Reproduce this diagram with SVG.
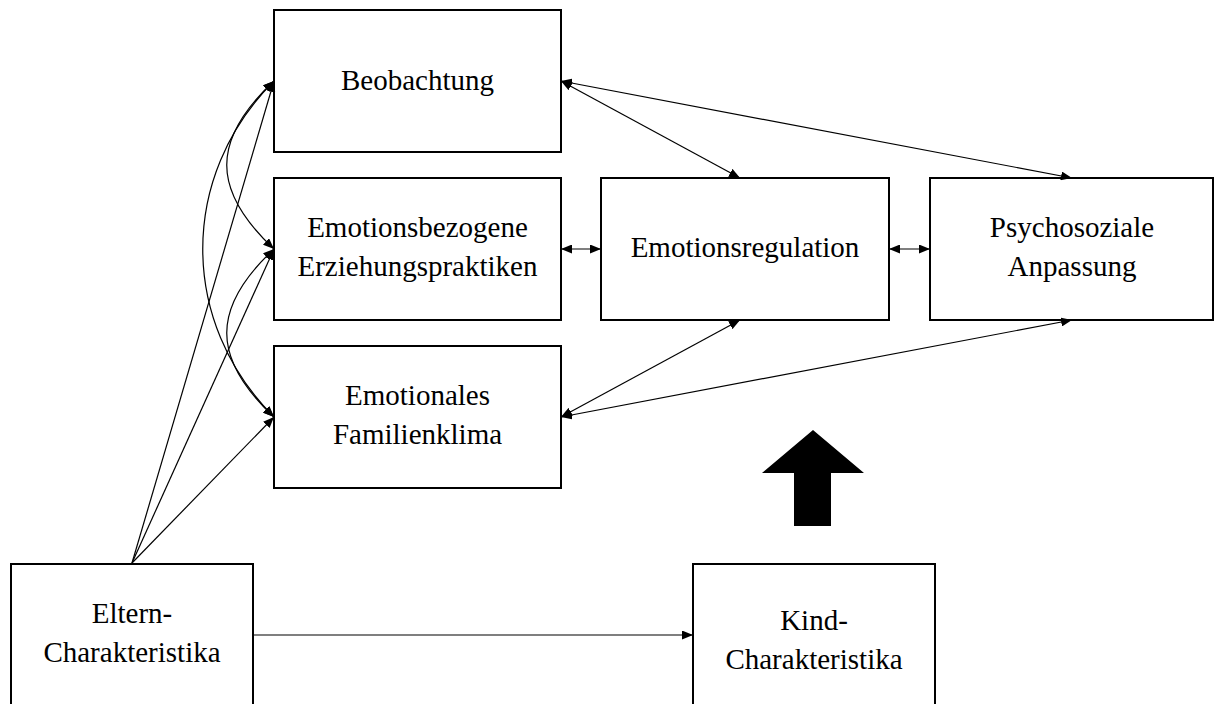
<svg xmlns="http://www.w3.org/2000/svg" width="1215" height="704" viewBox="0 0 1215 704">
<style>
.box{fill:#fff;stroke:#000;stroke-width:2}
.lbl{font-family:"Liberation Serif","Times New Roman",serif;font-size:29px;fill:#000;text-anchor:middle}
.c{fill:none;stroke:#000;stroke-width:1.2}
.d{marker-start:url(#ah);marker-end:url(#ah)}
.s{marker-end:url(#ah)}
</style>
<defs>
<marker id="ah" markerUnits="userSpaceOnUse" markerWidth="11" markerHeight="9" refX="11" refY="4.5" orient="auto-start-reverse" viewBox="0 0 11 9">
<path d="M0,0 L11,4.5 L0,9 z" fill="#000"/>
</marker>
</defs>
<rect width="1215" height="704" fill="#fff"/>
<g id="beobachtung"><rect class="box" x="274" y="10" width="287" height="142"/><text class="lbl" x="417.5" y="90">Beobachtung</text></g>
<g id="erziehungspraktiken"><rect class="box" x="274" y="178" width="287" height="142"/><text class="lbl" x="417.5" y="237">Emotionsbezogene</text><text class="lbl" x="417.5" y="276">Erziehungspraktiken</text></g>
<g id="familienklima"><rect class="box" x="274" y="346" width="287" height="142"/><text class="lbl" x="417.5" y="405">Emotionales</text><text class="lbl" x="417.5" y="444">Familienklima</text></g>
<g id="emotionsregulation"><rect class="box" x="601" y="178" width="288" height="142"/><text class="lbl" x="745" y="257">Emotionsregulation</text></g>
<g id="anpassung"><rect class="box" x="930" y="178" width="283" height="142"/><text class="lbl" x="1072" y="237">Psychosoziale</text><text class="lbl" x="1072" y="276">Anpassung</text></g>
<g id="eltern"><rect class="box" x="11" y="564" width="242" height="160"/><text class="lbl" x="132" y="623">Eltern-</text><text class="lbl" x="132" y="662">Charakteristika</text></g>
<g id="kind"><rect class="box" x="693" y="564" width="242" height="160"/><text class="lbl" x="814" y="630">Kind-</text><text class="lbl" x="814" y="669">Charakteristika</text></g>
<g id="connectors">
<path class="c s" d="M132,563 L274,81"/>
<path class="c s" d="M132,563 L274,249"/>
<path class="c s" d="M132,563 L274,417"/>
<path class="c d" d="M274,81 C211,140 211,190 274,249"/>
<path class="c d" d="M274,249 C211,308 211,358 274,417"/>
<path class="c d" d="M274,81 C179,176 179,322 274,417"/>
<path class="c d" d="M561,249 L601,249"/>
<path class="c d" d="M889,249 L930,249"/>
<path class="c d" d="M561,81 L740,178"/>
<path class="c d" d="M561,81 L1072,178"/>
<path class="c d" d="M561,417 L740,320"/>
<path class="c d" d="M561,417 L1072,320"/>
<path class="c s" d="M253,635 L693,635"/>
<polygon points="813,430 864,473 831,473 831,526 794,526 794,473 762,473" fill="#000"/>
</g>
</svg>
